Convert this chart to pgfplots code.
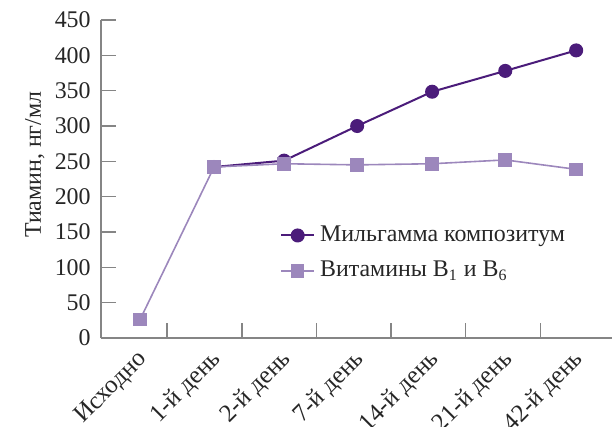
\documentclass[border=0pt]{standalone}
\usepackage{fontspec}
\setmainfont{Liberation Serif}
\usepackage{pgfplots}
\pgfplotsset{compat=1.18}
\definecolor{dpurple}{HTML}{4B1C7A}
\definecolor{lpurple}{HTML}{9C87BC}
\definecolor{axgray}{HTML}{858585}
\begin{document}
\fontsize{12}{14}\selectfont
\begin{tikzpicture}
\useasboundingbox (0,0) rectangle (306bp,213.5bp);
\begin{axis}[
 anchor=south west, at={(50.5bp,44.5bp)},
 scale only axis, width=255.5bp, height=159bp,
 xmin=0.114, xmax=6.96, ymin=0, ymax=450,
 axis x line*=bottom, axis y line*=left,
 axis line style={axgray, line width=0.8pt, -},
 tick style={axgray, line width=0.8pt},
 tick align=inside,
 major tick length=7.5bp,
 ytick={0,50,...,450},
 xtick={1,2,3,4,5,6}, xticklabels={},
 extra x ticks={0.637,1.629,2.567,3.546,4.55,5.53,6.48},
 extra x tick labels={Исходно,1-й день,2-й день,7-й день,14-й день,21-й день,42-й день},
 extra x tick style={major tick length=0pt},
 xticklabel style={rotate=45, anchor=north east, yshift=2bp, xshift=-1bp, font=\fontsize{12.5}{14}\selectfont, text=black!85},
 yticklabel style={font=\fontsize{12}{14}\selectfont, text=black!85, xshift=-1bp},
 /pgf/number format/assume math mode=true,
 ylabel={Тиамин, нг/мл},
 ylabel style={font=\fontsize{12}{14}\selectfont, text=black!85, at={(ticklabel cs:0.545)}, yshift=-3bp},
 legend style={at={(0.35,0.267)}, anchor=west, draw=none, fill=none, font=\fontsize{12}{14}\selectfont, text=black!85, row sep=3bp, inner sep=0pt, nodes={inner sep=2.5bp}},
 legend cell align=left,
 legend image code/.code={\draw[mark repeat=2,mark phase=2] plot coordinates {(0cm,0cm)(0.29cm,0cm)(0.58cm,0cm)};},
]
\addplot[dpurple, line width=1bp, mark=*, mark size=3bp, mark options={fill=dpurple, draw=dpurple}]
 coordinates {(1.629,242)(2.567,251)(3.546,300)(4.55,348.5)(5.53,378)(6.48,407)};
\addlegendentry{Мильгамма композитум}
\addplot[lpurple, line width=0.8bp, mark=square*, mark size=3bp, mark options={fill=lpurple, draw=lpurple}]
 coordinates {(0.637,26)(1.629,242)(2.567,246.6)(3.546,245)(4.55,246.6)(5.53,252)(6.48,238.7)};
\addlegendentry{Витамины B\textsubscript{1} и B\textsubscript{6}}
\end{axis}
\end{tikzpicture}
\end{document}
